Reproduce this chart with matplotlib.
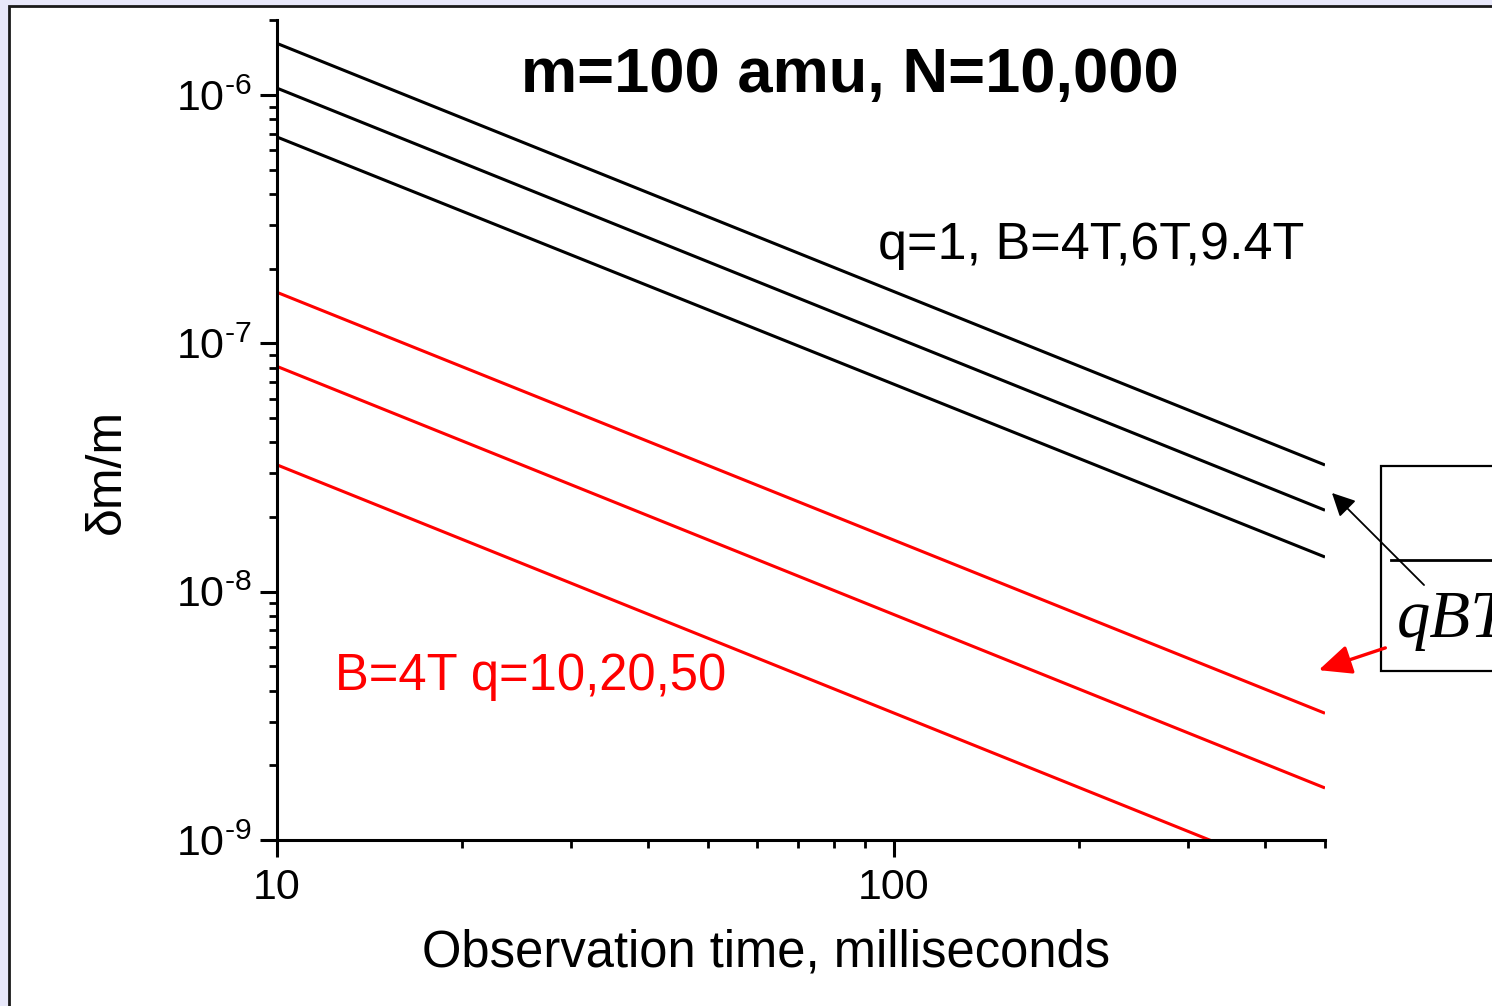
import matplotlib
matplotlib.use("Agg")
import matplotlib.pyplot as plt
from matplotlib.ticker import FuncFormatter, LogLocator, NullFormatter, FixedLocator
from matplotlib.patches import Rectangle, FancyArrowPatch
import numpy as np

plt.rcParams['font.family'] = ['Liberation Sans', 'DejaVu Sans']
plt.rcParams['mathtext.fontset'] = 'custom'
plt.rcParams['mathtext.rm'] = 'Liberation Sans'
plt.rcParams['mathtext.it'] = 'Liberation Sans:italic'
plt.rcParams['mathtext.bf'] = 'Liberation Sans:bold'

# ---- data ----
obs_time = [10, 500]                       # milliseconds, line end points
black_labels = ["B=4T", "B=6T", "B=9.4T"]   # q = 1
black_start = [1.62e-6, 1.07e-6, 6.8e-7]
black_end = [3.24e-8, 2.13e-8, 1.38e-8]
red_labels = ["q=10", "q=20", "q=50"]       # B = 4T
red_start = [1.61e-7, 8.1e-8, 3.25e-8]
red_end = [3.24e-9, 1.62e-9, 6.5e-10]

x_major = [10, 100]
x_major_labels = ["10", "100"]
y_major = [1e-9, 1e-8, 1e-7, 1e-6]
y_major_labels = ["-9", "-8", "-7", "-6"]

W, H = 1492, 1006
fig = plt.figure(figsize=(W / 100, H / 100), dpi=100)
fig.patch.set_facecolor('#E8E8FA')

# white slide panel with dark frame (extends past right/bottom edges)
panel = Rectangle((8.5 / W, -0.1), 1.2, 1 - 5.5 / H + 0.1, transform=fig.transFigure,
                  facecolor='white', edgecolor='#1a1a1a', lw=2.0, zorder=-5)
fig.patches.append(panel)

ax = fig.add_axes([276.5 / W, 1 - 840 / H, (1325 - 276.5) / W, (840 - 20.5) / H])
ax.set_facecolor('none')
ax.set_zorder(2)
ax.set_xscale('log')
ax.set_yscale('log')

for s, e in zip(black_start, black_end):
    ax.plot(obs_time, [s, e], color='black', lw=2.2, solid_capstyle='butt')
for s, e in zip(red_start, red_end):
    ax.plot(obs_time, [s, e], color='#FF0000', lw=2.2, solid_capstyle='butt')

ax.set_xlim(10, 500)
ax.set_ylim(1e-9, 2e-6)

for sp in ['top', 'right']:
    ax.spines[sp].set_visible(False)
for sp in ['left', 'bottom']:
    ax.spines[sp].set_linewidth(2.2)

ax.xaxis.set_major_locator(FixedLocator(x_major))
ax.xaxis.set_major_formatter(FuncFormatter(lambda v, p: x_major_labels[x_major.index(v)] if v in x_major else ""))
ax.xaxis.set_minor_locator(LogLocator(base=10, subs=np.arange(2, 10)))
ax.xaxis.set_minor_formatter(NullFormatter())

ax.yaxis.set_major_locator(FixedLocator(y_major))
def yfmt(v, p):
    for val, lab in zip(y_major, y_major_labels):
        if abs(v - val) / val < 1e-6:
            return r'10$^{\text{' + lab + '}}$'
    return ''
ax.yaxis.set_major_formatter(FuncFormatter(yfmt))
ax.yaxis.set_minor_locator(LogLocator(base=10, subs=np.arange(2, 10)))
ax.yaxis.set_minor_formatter(NullFormatter())

ax.tick_params(which='major', direction='out', length=12, width=2.2, labelsize=31, colors='black')
ax.tick_params(which='minor', direction='out', length=6, width=2.0)
ax.tick_params(axis='x', which='major', pad=8)
ax.tick_params(axis='y', which='major', pad=6)

ax.set_xlabel('Observation time, milliseconds', fontsize=36.5)
ax.xaxis.set_label_coords(0.467, -0.108)
ax.set_ylabel('δm/m', fontsize=36)
ax.yaxis.set_label_coords(-0.14, 0.45)

# title and annotations
fig.text(850 / W, 1 - 92 / H, 'm=100 amu, N=10,000', fontsize=45.5, fontweight='bold',
         ha='center', va='baseline')
fig.text(878 / W, 1 - 259 / H, 'q=1, B=4T,6T,9.4T', fontsize=37.5, ha='left', va='baseline',
         color='black')
fig.text(335 / W, 1 - 690 / H, 'B=4T q=10,20,50', fontsize=36.5, ha='left', va='baseline',
         color='#FF0000')

# partially visible formula box at right
box = Rectangle((1381 / W, 1 - 671 / H), 0.2, (671 - 466) / H, transform=fig.transFigure,
                facecolor='white', edgecolor='black', lw=1.6, zorder=3)
fig.patches.append(box)
fig.add_artist(plt.Line2D([1391 / W, 1.0], [1 - 560 / H, 1 - 560 / H],
                          transform=fig.transFigure, color='black', lw=2.0, zorder=4))
fig.text(1397 / W, 1 - 637 / H, 'qBT', fontsize=48, fontstyle='italic',
         family=['Liberation Serif'], ha='left', va='baseline', zorder=5)

fig.add_artist(FancyArrowPatch(
    (1426 / W, 1 - 587 / H), (1330 / W, 1 - 491 / H), transform=fig.transFigure,
    arrowstyle='-|>,head_length=14,head_width=7', mutation_scale=1, color='black', lw=1.3, zorder=6))
fig.add_artist(FancyArrowPatch(
    (1388 / W, 1 - 647 / H), (1316 / W, 1 - 671 / H), transform=fig.transFigure,
    arrowstyle='-|>,head_length=20,head_width=9', mutation_scale=1, color='#FF0000', lw=2.4, zorder=6))

fig.savefig('out.png', dpi=100)
